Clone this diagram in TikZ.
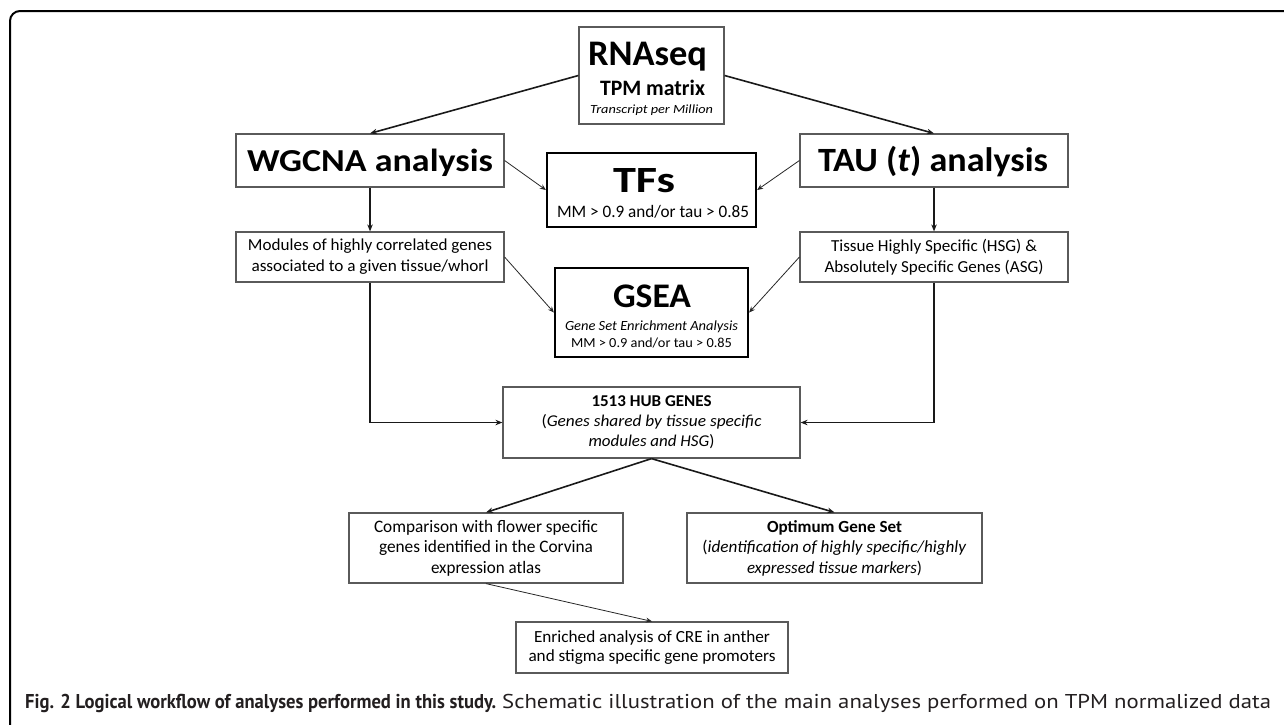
\documentclass[tikz,border=0pt]{standalone}
\usepackage{fontspec}
\setmainfont{Carlito}
\newfontfamily\capfont{PT Sans}
\usetikzlibrary{arrows.meta}
\definecolor{boxgray}{HTML}{5A5A5A}
\definecolor{captxt}{HTML}{231F20}
\newcommand{\fs}[2]{\fontsize{#1}{#2}\selectfont}
\newcommand{\fw}[2]{\resizebox{#1pt}{\height}{#2}}
\tikzset{
  box/.style={draw=boxgray, line width=1.2pt, inner sep=0pt, align=center, text=black},
  thickbox/.style={draw=black, line width=2.2pt, inner sep=0pt, align=center, text=black},
  txt/.style={anchor=base, inner sep=0pt, text=black},
  arr/.style={-{Stealth[length=7pt,width=5.5pt]}, line width=1.6pt, draw=black!90},
  tarr/.style={-{Stealth[length=6pt,width=5pt]}, line width=0.8pt, draw=black!85},
}
\begin{document}
\begin{tikzpicture}[x=1pt,y=-1pt]
\useasboundingbox (0,0) rectangle (1284,724);
% frame
\draw[line width=2pt, rounded corners=10pt] (10,727) -- (10,11) -- (1300,11);

% RNAseq box
\node[box, minimum width=145pt, minimum height=97pt] (rna) at (651.5,75.5) {};
\node[txt, font=\fs{36}{40}\bfseries] (rnaA) at (647.5,65) {\fw{119}{RNAseq}};
\node[txt, font=\fs{22}{24}\bfseries] (rnaB) at (652.5,95) {\fw{105}{TPM matrix}};
\node[txt, font=\fs{12.5}{14}\itshape] (rnaC) at (651.5,113) {\fw{123}{Transcript per Million}};

\node[box, minimum width=268pt, minimum height=53pt] (wgcna) at (370,160.5) {};
\node[txt, font=\fs{32}{38}\bfseries] (wgcnaT) at (370,171) {\fw{246}{WGCNA analysis}};
\node[box, minimum width=268pt, minimum height=53pt] (tau) at (934,160.5) {};
\node[txt, font=\fs{34}{38}\bfseries] (tauT) at (933,171) {\fw{230}{TAU (\textit{t}) analysis}};

\node[thickbox, minimum width=209pt, minimum height=74pt] (tfs) at (651.5,190) {};
\node[txt, font=\fs{37}{40}\bfseries] (tfsA) at (644,192) {\fw{62}{TFs}};
\node[txt, font=\fs{17.5}{20}] (tfsB) at (653,217) {\fw{192}{MM > 0.9 and/or tau > 0.85}};

\node[box, minimum width=268pt, minimum height=50pt, font=\fs{16.8}{21}] (mod) at (370,257)
  {\fw{244}{Modules of highly correlated genes}\\\fw{237}{associated to a given tissue/whorl}};
\node[box, minimum width=268pt, minimum height=50pt, font=\fs{16.8}{21}] (tis) at (934,257)
  {\fw{206}{Tissue Highly Specific (HSG) \&}\\\fw{219}{Absolutely Specific Genes (ASG)}};

\node[thickbox, minimum width=193pt, minimum height=89pt] (gsea) at (651.5,312.5) {};
\node[txt, font=\fs{34.5}{38}\bfseries] (gseaA) at (652,307) {\fw{78}{GSEA}};
\node[txt, font=\fs{14}{16}\itshape] (gseaB) at (651.5,330) {\fw{173}{Gene Set Enrichment Analysis}};
\node[txt, font=\fs{13.8}{16}] (gseaC) at (651.5,347) {\fw{161}{MM > 0.9 and/or tau > 0.85}};

\node[box, minimum width=297pt, minimum height=71pt, font=\fs{16.5}{20}] (hub) at (651.5,422.5)
  {\fw{120}{\textbf{1513 HUB GENES}}\\\fw{220}{(\textit{Genes shared by tissue specific}}\\\fw{126}{\textit{modules and HSG})}};
\node[box, minimum width=274pt, minimum height=70pt, font=\fs{17.5}{20.5}] (cmp) at (486,548)
  {\fw{224}{Comparison with flower specific}\\\fw{214}{genes identified in the Corvina}\\\fw{110}{expression atlas}};
\node[box, minimum width=295pt, minimum height=70pt, font=\fs{17}{20.5}] (opt) at (834.5,548)
  {\fw{135}{\textbf{Optimum Gene Set}}\\\fw{264}{(\textit{identification of highly specific/highly}}\\\fw{175}{\textit{expressed tissue markers})}};
\node[box, minimum width=272pt, minimum height=51pt, font=\fs{17}{19.5}] (enr) at (652,647.5)
  {\fw{236}{Enriched analysis of CRE in anther}\\\fw{247}{and stigma specific gene promoters}};

% connectors
\draw[arr] (rna.west) -- (wgcna.north);
\draw[arr] (rna.east) -- (tau.north);
\draw[tarr] (wgcna.east) -- (tfs.west);
\draw[tarr] (tau.west) -- (tfs.east);
\draw[arr] (wgcna.south) -- (mod.north);
\draw[arr] (tau.south) -- (tis.north);
\draw[tarr] (mod.east) -- (gsea.west);
\draw[tarr] (tis.west) -- (gsea.east);
\draw[arr] (mod.south) |- (hub.west);
\draw[arr] (tis.south) |- (hub.east);
\draw[arr] (hub.south) -- (cmp.north);
\draw[arr] (hub.south) -- (opt.north);
\draw[tarr] (cmp.south) -- (enr.north);

% caption
\node[anchor=base west, inner sep=0pt, text=captxt, font=\capfont\fs{20}{24}] (cap) at (25,708)
  {\fw{471}{\textbf{Fig. 2 Logical workflow of analyses performed in this study.}}\hspace{6pt}\fw{769}{Schematic illustration of the main analyses performed on TPM normalized data}};
\end{tikzpicture}
\end{document}
